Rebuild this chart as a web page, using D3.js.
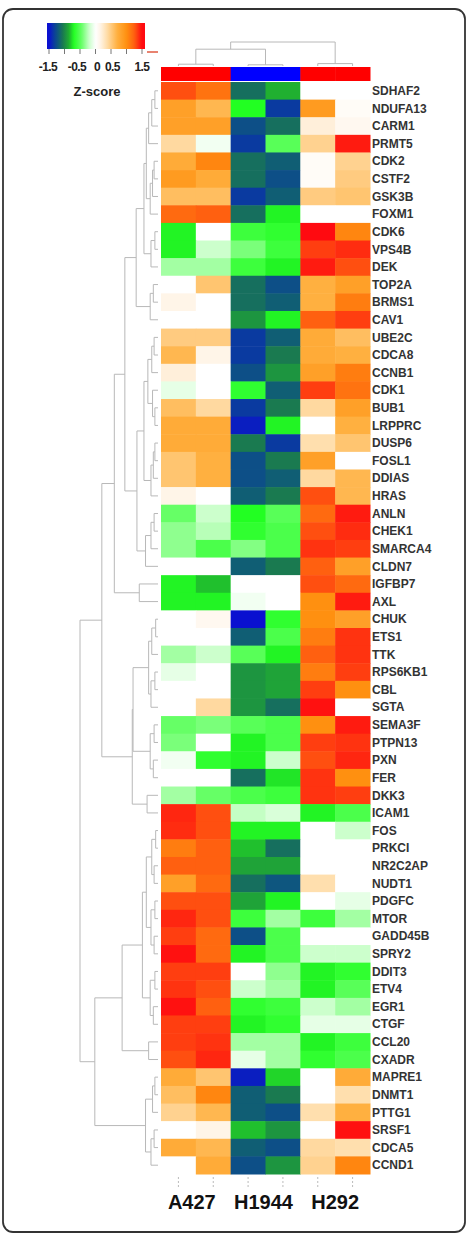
<!DOCTYPE html>
<html lang="en">
  <head>
    <meta charset="UTF-8" />
    <title>Z-score heatmap</title>
    <script src="https://d3js.org/d3.v7.min.js"></script>
    <style>
      body { margin: 0; background: #fff; }
      text { font-family: "Liberation Sans", Arial, sans-serif; font-weight: bold; }
    </style>
  </head>
  <body>
    <svg id="heat" width="469" height="1236"></svg>
    <script>
      // genes, top to bottom
      const genes = [
        "SDHAF2", "NDUFA13", "CARM1", "PRMT5", "CDK2", "CSTF2", "GSK3B", "FOXM1",
        "CDK6", "VPS4B", "DEK", "TOP2A", "BRMS1", "CAV1", "UBE2C", "CDCA8",
        "CCNB1", "CDK1", "BUB1", "LRPPRC", "DUSP6", "FOSL1", "DDIAS", "HRAS",
        "ANLN", "CHEK1", "SMARCA4", "CLDN7", "IGFBP7", "AXL", "CHUK", "ETS1",
        "TTK", "RPS6KB1", "CBL", "SGTA", "SEMA3F", "PTPN13", "PXN", "FER",
        "DKK3", "ICAM1", "FOS", "PRKCI", "NR2C2AP", "NUDT1", "PDGFC", "MTOR",
        "GADD45B", "SPRY2", "DDIT3", "ETV4", "EGR1", "CTGF", "CCL20", "CXADR",
        "MAPRE1", "DNMT1", "PTTG1", "SRSF1", "CDCA5", "CCND1"
      ];

      // two replicates per cell line
      const cellLines = ["A427", "H1944", "H292"];
      const samples = ["A427_1", "A427_2", "H1944_1", "H1944_2", "H292_1", "H292_2"];
      const sampleClass = ["red", "red", "blue", "blue", "red", "red"];

      // z-scores, one row per gene, columns in sample order
      const zValues = [
        [1.3, 1.15, -1.1, -0.85, 0, 0],
        [0.85, 0.65, -0.7, -1.35, 0.9, 0.05],
        [0.85, 0.85, -1.25, -1.1, 0.2, 0.1],
        [0.4, -0.05, -1.35, -0.5, 0.45, 1.45],
        [0.75, 1.05, -1.1, -1.18, 0.05, 0.45],
        [0.9, 0.75, -1.1, -1.25, 0.05, 0.5],
        [0.6, 0.6, -1.35, -1.18, 0.5, 0.55],
        [1.2, 1.25, -1.1, -0.72, 0, 0],
        [-0.72, 0, -0.6, -0.65, 1.5, 1.05],
        [-0.72, -0.2, -0.4, -0.6, 1.35, 1.4],
        [-0.3, -0.3, -0.6, -0.72, 1.45, 1.3],
        [0, 0.55, -1.1, -1.25, 0.7, 0.85],
        [0.15, 0, -1.1, -1.18, 0.7, 1.1],
        [0, 0, -0.95, -0.72, 1.25, 1.35],
        [0.5, 0.5, -1.35, -1.18, 0.75, 0.6],
        [0.65, 0.15, -1.35, -1.05, 0.75, 0.7],
        [0.2, 0, -1.25, -0.95, 0.85, 1.1],
        [-0.1, 0, -0.65, -1.18, 1.35, 1.15],
        [0.6, 0.4, -1.35, -1.05, 0.4, 0.85],
        [0.75, 0.75, -1.45, -0.72, 0, 0.7],
        [0.75, 0.75, -1.05, -1.35, 0.35, 0.55],
        [0.55, 0.7, -1.25, -1.05, 0.85, 0],
        [0.55, 0.7, -1.25, -1.18, 0.4, 0.65],
        [0.15, 0, -1.18, -1.05, 1.3, 0.65],
        [-0.45, -0.2, -0.7, -0.5, 1.2, 1.45],
        [-0.35, -0.25, -0.65, -0.55, 1.3, 1.4],
        [-0.35, -0.55, -0.38, -0.55, 1.38, 1.35],
        [0, 0, -1.18, -1.05, 1.25, 0.85],
        [-0.72, -0.82, 0, 0, 1.3, 1.2],
        [-0.72, -0.72, -0.05, 0, 1.0, 1.45],
        [0, 0.1, -1.5, -0.65, 1.0, 0.85],
        [0, 0, -1.18, -0.55, 1.1, 1.38],
        [-0.3, -0.2, -0.5, -0.72, 1.25, 1.38],
        [-0.1, 0, -0.95, -0.9, 1.1, 1.35],
        [0, 0, -0.95, -0.9, 1.35, 1.0],
        [0, 0.4, -0.95, -1.1, 1.48, 0],
        [-0.45, -0.4, -0.5, -0.55, 1.0, 1.45],
        [-0.4, 0, -0.72, -0.55, 1.35, 1.38],
        [-0.05, -0.65, -0.72, -0.2, 1.3, 1.42],
        [0, 0, -1.1, -0.75, 1.38, 1.0],
        [-0.3, -0.45, -0.55, -0.6, 1.38, 1.35],
        [1.42, 1.3, -0.22, -0.15, -0.72, -0.55],
        [1.4, 1.3, -0.72, -0.72, 0, -0.2],
        [1.1, 1.25, -0.82, -1.1, 0, 0],
        [1.25, 1.25, -0.9, -0.9, 0, 0],
        [0.85, 1.2, -1.1, -1.22, 0.35, 0],
        [1.3, 1.3, -0.9, -0.72, 0, -0.1],
        [1.42, 1.3, -0.6, -0.3, -0.6, -0.3],
        [1.35, 1.2, -1.25, -0.55, 0, 0],
        [1.48, 1.2, -0.72, -0.55, -0.2, -0.2],
        [1.35, 1.35, 0, -0.35, -0.72, -0.65],
        [1.38, 1.3, -0.2, -0.3, -0.72, -0.5],
        [1.48, 1.25, -0.65, -0.6, -0.2, -0.3],
        [1.35, 1.35, -0.72, -0.65, -0.1, -0.1],
        [1.35, 1.38, -0.3, -0.3, -0.72, -0.6],
        [1.3, 1.42, -0.1, -0.3, -0.65, -0.55],
        [0.75, 0.55, -1.45, -0.78, 0, 0.75],
        [0.6, 1.05, -1.18, -1.05, 0, 0.35],
        [0.45, 0.65, -1.18, -1.25, 0.35, 0.7],
        [0, 0.15, -0.82, -0.95, 0, 1.48],
        [0.75, 0.65, -1.18, -1.25, 0.4, 0.35],
        [0, 0.75, -1.25, -0.95, 0.45, 1.05]
      ];

      // colour map
      const zStops = [-1.5, -1.35, -1.2, -1.05, -0.85, -0.7, -0.45, -0.2, 0, 0.15, 0.4, 0.7, 1.0, 1.25, 1.5];
      const zColors = ["#0a10d0", "#0a3aa0", "#0f5a7a", "#1a7a50", "#20b030", "#22ff22", "#66ff66", "#ccffcc",
        "#ffffff", "#fff5e8", "#ffd9a0", "#ffb040", "#ff9010", "#ff6010", "#ff0a10"];
      const legendTicks = [-1.5, -1, -0.5, 0, 0.5, 1, 1.5];
      const legendLabels = ["-1.5", "-0.5", "0", "0.5", "1.5"];

      // row dendrogram: [height, left, right], leaves are 1-based row numbers
      const rowTree = [10,
        [7.2,
          [5.6,
            [4.25,
              [2.8,
                [1.8,
                  [1.5, [1.2, [0.8, [0.4, 1, 2], 3], 4], [1.0, [0.7, [0.5, 5, 6], 7], 8]],
                  [0.9, [0.4, 9, 10], 11]],
                [1.0, [0.6, 12, 13], 14]],
              [2.7,
                [1.8,
                  [1.3, [0.8, [0.5, 15, 16], 17], [0.7, 18, [0.4, 19, 20]]],
                  [0.9, [0.6, [0.4, 21, 22], 23], 24]],
                [1.6, [0.9, [0.5, 25, 26], 27], 28]]],
            [2.4, 29, 30]],
          [3.3,
            [3.2,
              [1.2, [0.8, [0.3, 31, 32], 33], [0.9, [0.4, 34, 35], 36]],
              [1.0, [0.5, 37, 38], [0.6, 39, 40]]],
            [1.4, 41, 42]]],
        [8.1,
          [4.6,
            [2.0,
              [1.5, [0.8, [0.3, 43, 44], [0.5, 45, 46]], [0.9, [0.4, 47, 48], [0.5, 49, 50]]],
              [1.0, [0.4, 51, 52], [0.6, 53, 54]]],
            [1.2, 55, 56]],
          [1.6, [0.7, [0.4, 57, 58], 59], [0.9, [0.5, 60, 61], 62]]]];

      // column dendrogram, leaves are 1-based sample numbers
      const colTree = [2, [1.4, [0.15, 1, 2], [0.1, 3, 4]], [0.2, 5, 6]];

      const svg = d3.select("#heat");

      // outer frame
      svg.append("rect")
        .attr("x", 3).attr("y", 9)
        .attr("width", 462).attr("height", 1223)
        .attr("rx", 10)
        .attr("fill", "none")
        .attr("stroke", "#333")
        .attr("stroke-width", 1.8);

      const x = d3.scaleBand().domain(samples).range([161, 370]);
      const y = d3.scaleBand().domain(genes).range([82, 1174]);
      const color = d3.scaleLinear().domain(zStops).range(zColors).clamp(true);

      // cells
      const cells = [];
      zValues.forEach((row, i) => {
        row.forEach((v, j) => cells.push({ gene: genes[i], sample: samples[j], z: v }));
      });
      svg.append("g")
        .selectAll("rect")
        .data(cells)
        .join("rect")
        .attr("x", (d) => x(d.sample))
        .attr("y", (d) => y(d.gene))
        .attr("width", x.bandwidth() + 0.5)
        .attr("height", y.bandwidth() + 0.5)
        .attr("fill", (d) => color(d.z));

      // class bar on top
      svg.append("g")
        .selectAll("rect")
        .data(samples)
        .join("rect")
        .attr("x", (d) => x(d))
        .attr("y", 67)
        .attr("width", x.bandwidth() + 0.5)
        .attr("height", 14)
        .attr("fill", (d, i) => (sampleClass[i] === "red" ? "#ff0000" : "#0000ff"));

      // gene labels
      svg.append("g")
        .selectAll("text")
        .data(genes)
        .join("text")
        .attr("x", 372)
        .attr("y", (d) => y(d) + y.bandwidth() / 2)
        .attr("dy", "0.35em")
        .attr("font-size", 12)
        .attr("fill", "#333")
        .text((d) => d);

      // little dashed ticks under each column
      svg.append("g")
        .selectAll("line")
        .data(samples)
        .join("line")
        .attr("x1", (d) => x(d) + x.bandwidth() / 2)
        .attr("x2", (d) => x(d) + x.bandwidth() / 2)
        .attr("y1", 1177)
        .attr("y2", 1188)
        .attr("stroke", "#bbb")
        .attr("stroke-dasharray", "2,2");

      // cell line labels
      svg.append("g")
        .selectAll("text")
        .data(cellLines)
        .join("text")
        .attr("x", (d, i) => x(samples[i * 2]) + x.bandwidth() - 4 + i * 2)
        .attr("y", 1209)
        .attr("text-anchor", "middle")
        .attr("font-size", 20)
        .attr("fill", "#111")
        .text((d) => d);

      // dendrograms
      function layout(node, leafPos) {
        if (typeof node === "number") return { pos: leafPos(node), h: 0, kids: [] };
        const kids = node.slice(1).map((c) => layout(c, leafPos));
        return { pos: d3.mean(kids, (k) => k.pos), h: node[0], kids: kids };
      }
      function segments(n, out) {
        n.kids.forEach((k) => {
          out.push({ a: k.pos, b: k.pos, h0: k.h, h1: n.h });
          segments(k, out);
        });
        if (n.kids.length) {
          out.push({ a: n.kids[0].pos, b: n.kids[n.kids.length - 1].pos, h0: n.h, h1: n.h });
        }
        return out;
      }

      const rowH = d3.scaleLinear().domain([0, 10]).range([158, 80]);
      const rowRoot = layout(rowTree, (i) => y(genes[i - 1]) + y.bandwidth() / 2);
      svg.append("g")
        .selectAll("line")
        .data(segments(rowRoot, []))
        .join("line")
        .attr("x1", (d) => rowH(d.h0))
        .attr("x2", (d) => rowH(d.h1))
        .attr("y1", (d) => d.a)
        .attr("y2", (d) => d.b)
        .attr("stroke", "#b8b8b8")
        .attr("stroke-width", 1);

      const colH = d3.scaleLinear().domain([0, 2]).range([66, 42]);
      const colRoot = layout(colTree, (i) => x(samples[i - 1]) + x.bandwidth() / 2);
      svg.append("g")
        .selectAll("line")
        .data(segments(colRoot, []))
        .join("line")
        .attr("x1", (d) => d.a)
        .attr("x2", (d) => d.b)
        .attr("y1", (d) => colH(d.h0))
        .attr("y2", (d) => colH(d.h1))
        .attr("stroke", "#b8b8b8")
        .attr("stroke-width", 1);

      // colour key
      const lx = d3.scaleLinear().domain([-1.5, 1.5]).range([49, 142]);
      const grad = svg.append("defs").append("linearGradient").attr("id", "zgrad");
      grad.selectAll("stop")
        .data(d3.range(0, 1.0001, 0.02))
        .join("stop")
        .attr("offset", (t) => t)
        .attr("stop-color", (t) => color(lx.invert(47 + t * 98)));
      svg.append("rect")
        .attr("x", 47).attr("y", 23)
        .attr("width", 98).attr("height", 26)
        .attr("fill", "url(#zgrad)");
      svg.append("g")
        .selectAll("line")
        .data(legendTicks)
        .join("line")
        .attr("x1", (d) => lx(d)).attr("x2", (d) => lx(d))
        .attr("y1", 49).attr("y2", 54)
        .attr("stroke", "#777");
      svg.append("line")
        .attr("x1", 147).attr("x2", 158)
        .attr("y1", 52).attr("y2", 52)
        .attr("stroke", "#e05a40").attr("stroke-width", 1.5);
      // labels are nudged apart a little, as in the original key
      const nudge = { "-1.5": -1, "-0.5": -3, "0": 1.5, "0.5": 1.5, "1.5": 0 };
      svg.append("g")
        .selectAll("text")
        .data(legendLabels)
        .join("text")
        .attr("x", (d) => lx(+d) + nudge[d])
        .attr("y", 71)
        .attr("text-anchor", "middle")
        .attr("font-size", 12)
        .attr("letter-spacing", -0.6)
        .attr("fill", "#222")
        .text((d) => d);
      svg.append("text")
        .attr("x", 97).attr("y", 96)
        .attr("text-anchor", "middle")
        .attr("font-size", 13)
        .attr("fill", "#222")
        .text("Z-score");
    </script>
  </body>
</html>
